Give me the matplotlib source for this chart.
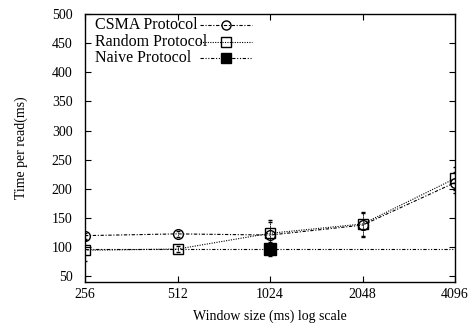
import matplotlib.pyplot as plt

plt.rcParams['font.family'] = ['Liberation Serif', 'DejaVu Serif']
plt.rcParams['font.size'] = 10

# 窗口大小 (ms)
window = [256, 512, 1024, 2048, 4096]
# 三种协议的读取时间 (ms)
csma = [120, 123, 121, 138, 211]
csma_err = [5, 5, 22, 20, 18]
random_p = [95, 97, 124, 140, 218]
random_err = [18, 5, 22, 20, 20]
naive = [97, 97, 97, 97, 97]
naive_err = [0, 0, 12, 0, 0]
labels = ['CSMA Protocol', 'Random Protocol', 'Naive Protocol']

fig = plt.figure(figsize=(4.74, 3.34), dpi=100)
ax = fig.add_axes([0.1793, 0.1548, 0.7807, 0.8033])

lw = 0.8
styles = [
    dict(dashes=(3, 1.5, 1, 1.5), marker='o', ms=7, mfc='none', mew=1.0),
    dict(dashes=(1, 1.2), marker='s', ms=7, mfc='none', mew=1.0),
    dict(dashes=(3, 1.5, 1, 1.5, 1, 1.5), marker='s', ms=8, mfc='black'),
]

ebs = []
ebs.append(ax.errorbar(window, csma, yerr=csma_err, color='black', lw=lw,
                       elinewidth=0.6, capsize=1.5, **styles[0]))
ebs.append(ax.errorbar(window, random_p, yerr=random_err, color='black', lw=lw,
                       elinewidth=0.6, capsize=1.5, **styles[1]))
ebs.append(ax.errorbar(window, naive, yerr=naive_err, errorevery=[2], color='black',
                       lw=lw, elinewidth=0.6, capsize=1.5, markevery=[2], **styles[2]))
for eb in ebs:
    for c in eb[2]:
        c.set_linestyle((0, (1, 1)))

# 图例 (gnuplot 风格：文字左对齐，样例在右)
for i, (lab, st) in enumerate(zip(labels, styles)):
    yy = [0.959, 0.896, 0.836][i]
    ax.text(0.027, yy, lab, transform=ax.transAxes, fontsize=11.5,
            ha='left', va='center')
    ax.plot([0.311, 0.451], [yy, yy], transform=ax.transAxes, color='black',
            lw=lw, dashes=st['dashes'])
    ax.plot([0.381], [yy], transform=ax.transAxes, color='black', ls='none',
            marker=st['marker'], ms=st['ms'] - 0.5, mfc=st['mfc'], mew=st.get('mew', 1.0))

ax.set_xscale('log', base=2)
ax.set_xlim(256, 4096)
ax.set_xticks(window)
ax.set_xticklabels([str(w) for w in window])
ax.minorticks_off()
ax.set_ylim(40, 500)
ax.set_yticks(range(50, 501, 50))

ax.tick_params(direction='in', top=True, right=True, length=4, width=0.8)
ax.tick_params(axis='x', pad=4)
ax.tick_params(axis='y', pad=9)
for sp in ax.spines.values():
    sp.set_linewidth(1.0)

ax.set_xlabel('Window size (ms) log scale', labelpad=6)
ax.set_ylabel('Time per read(ms)', labelpad=17)

plt.savefig('out.png', dpi=100)
